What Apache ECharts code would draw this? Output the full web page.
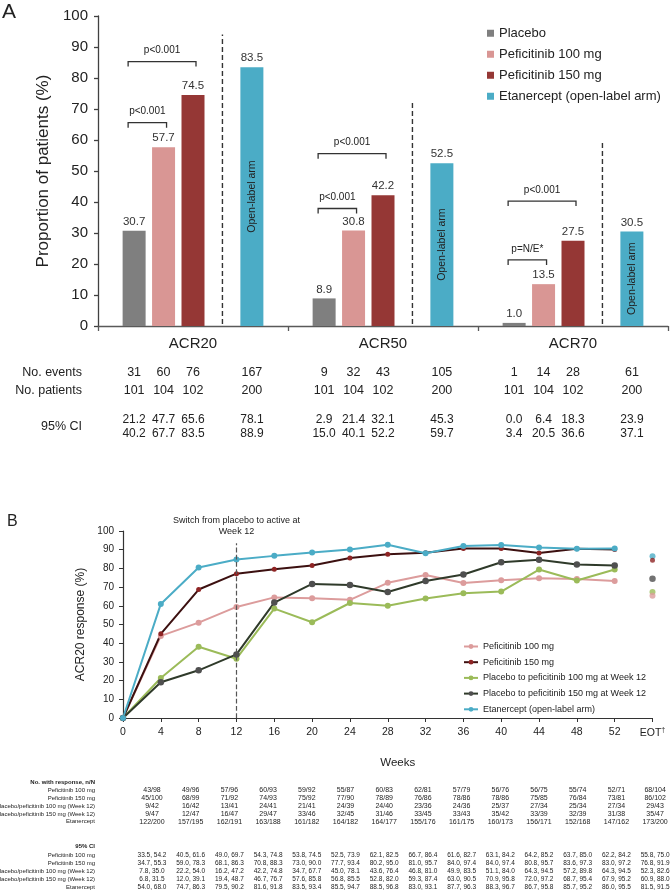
<!DOCTYPE html>
<html><head><meta charset="utf-8">
<script src="https://cdn.jsdelivr.net/npm/echarts@6/dist/echarts.min.js"></script>
<style>html,body{margin:0;padding:0;background:#fff}#c{width:670px;height:893px}</style>
</head><body><div id="c"></div>
<script>
// ---------------- Panel A data ----------------
const categoriesA = ['ACR20', 'ACR50', 'ACR70'];
const placeboA = [30.7, 8.9, 1.0];
const pef100A = [57.7, 30.8, 13.5];
const pef150A = [74.5, 42.2, 27.5];
const etanA = [83.5, 52.5, 30.5];
const dividerTopA = [94, 72, 60];
// [category, compared bar (1 = 100 mg, 2 = 150 mg), bracket level, label]
const bracketsA = [
  [0, 1, 65.6, 'p<0.001'], [0, 2, 85.3, 'p<0.001'],
  [1, 1, 37.9, 'p<0.001'], [1, 2, 55.6, 'p<0.001'],
  [2, 1, 21.3, 'p=N/E*'], [2, 2, 40.3, 'p<0.001']
];
const eventsA = [[31, 60, 76, 167], [9, 32, 43, 105], [1, 14, 28, 61]];
const patientsA = [[101, 104, 102, 200], [101, 104, 102, 200], [101, 104, 102, 200]];
const ciLowA = [[21.2, 47.7, 65.6, 78.1], [2.9, 21.4, 32.1, 45.3], [0.0, 6.4, 18.3, 23.9]];
const ciHighA = [[40.2, 67.7, 83.5, 88.9], [15.0, 40.1, 52.2, 59.7], [3.4, 20.5, 36.6, 37.1]];

// ---------------- Panel B data ----------------
const weeksB = ['0', '4', '8', '12', '16', '20', '24', '28', '32', '36', '40', '44', '48', '52', 'EOT'];
const pef100B = [0, 43.9, 51.0, 59.4, 64.5, 64.1, 63.2, 72.3, 76.5, 72.2, 73.7, 74.7, 74.3, 73.2];
const pef150B = [0, 45.0, 68.7, 77.2, 79.6, 81.5, 85.6, 87.6, 88.4, 90.7, 90.7, 88.2, 90.5, 90.1];
const pl100B = [0, 21.4, 38.1, 31.7, 58.5, 51.2, 61.5, 60.0, 63.9, 66.7, 67.6, 79.4, 73.5, 79.4];
const pl150B = [0, 19.1, 25.5, 34.0, 61.7, 71.7, 71.1, 67.4, 73.3, 76.7, 83.3, 84.6, 82.1, 81.6];
const etanB = [0, 61.0, 80.5, 84.8, 86.7, 88.5, 90.1, 92.7, 88.1, 92.0, 92.5, 91.2, 90.5, 90.7];
const eotB = { pef100: 65.4, pef150: 84.3, pl100: 67.4, pl150: 74.5, etan: 86.5 };
const switchWeek = '12';

// ---------------- Table B data ----------------
const rowLabelsB = ['Peficitinib 100 mg', 'Peficitinib 150 mg', 'Placebo/peficitinib 100 mg (Week 12)', 'Placebo/peficitinib 150 mg (Week 12)', 'Etanercept'];
const nPef100 = ['43/98', '49/96', '57/96', '60/93', '59/92', '55/87', '60/83', '62/81', '57/79', '56/76', '56/75', '55/74', '52/71', '68/104'];
const nPef150 = ['45/100', '68/99', '71/92', '74/93', '75/92', '77/90', '78/89', '76/86', '78/86', '78/86', '75/85', '76/84', '73/81', '86/102'];
const nPl100 = ['9/42', '16/42', '13/41', '24/41', '21/41', '24/39', '24/40', '23/36', '24/36', '25/37', '27/34', '25/34', '27/34', '29/43'];
const nPl150 = ['9/47', '12/47', '16/47', '29/47', '33/46', '32/45', '31/46', '33/45', '33/43', '35/42', '33/39', '32/39', '31/38', '35/47'];
const nEtan = ['122/200', '157/195', '162/191', '163/188', '161/182', '164/182', '164/177', '155/176', '161/175', '160/173', '156/171', '152/168', '147/162', '173/200'];
const ciPef100 = ['33.5, 54.2', '40.5, 61.6', '49.0, 69.7', '54.3, 74.8', '53.8, 74.5', '52.5, 73.9', '62.1, 82.5', '66.7, 86.4', '61.6, 82.7', '63.1, 84.2', '64.2, 85.2', '63.7, 85.0', '62.2, 84.2', '55.8, 75.0'];
const ciPef150 = ['34.7, 55.3', '59.0, 78.3', '68.1, 86.3', '70.8, 88.3', '73.0, 90.0', '77.7, 93.4', '80.2, 95.0', '81.0, 95.7', '84.0, 97.4', '84.0, 97.4', '80.8, 95.7', '83.6, 97.3', '83.0, 97.2', '76.8, 91.9'];
const ciPl100 = ['7.8, 35.0', '22.2, 54.0', '16.2, 47.2', '42.2, 74.8', '34.7, 67.7', '45.0, 78.1', '43.6, 76.4', '46.8, 81.0', '49.9, 83.5', '51.1, 84.0', '64.3, 94.5', '57.2, 89.8', '64.3, 94.5', '52.3, 82.6'];
const ciPl150 = ['6.8, 31.5', '12.0, 39.1', '19.4, 48.7', '46.7, 76.7', '57.6, 85.8', '56.8, 85.5', '52.8, 82.0', '59.3, 87.4', '63.0, 90.5', '70.9, 95.8', '72.0, 97.2', '68.7, 95.4', '67.9, 95.2', '60.9, 88.0'];
const ciEtan = ['54.0, 68.0', '74.7, 86.3', '79.5, 90.2', '81.6, 91.8', '83.5, 93.4', '85.5, 94.7', '88.5, 96.8', '83.0, 93.1', '87.7, 96.3', '88.3, 96.7', '86.7, 95.8', '85.7, 95.2', '86.0, 95.5', '81.5, 91.5'];

// ---------------- styles ----------------
const FONT = '"Liberation Sans", Arial, Helvetica, sans-serif';
const C = { placebo: '#7f7f7f', p100: '#d99694', p150: '#953735', etan: '#4bacc6' };
const BAR_W = 23, BAR_GAP = 0.28;
const SLOT = BAR_W * (1 + BAR_GAP);
const off = k => (k - 2) * SLOT;
const TXT = '#222';

function barSeries(name, data, color, extra) {
  return Object.assign({
    name, type: 'bar', xAxisIndex: 0, yAxisIndex: 0, data,
    barWidth: BAR_W, barGap: (BAR_GAP * 100) + '%',
    itemStyle: { color },
    label: { show: true, position: 'top', distance: 3, fontSize: 11.5, color: '#333', fontFamily: FONT,
      formatter: p => Number(p.value).toFixed(1) },
    silent: true
  }, extra || {});
}

function lineSeries(name, data, color, lineColor, size) {
  return {
    name: 'B|' + name, type: 'line', xAxisIndex: 1, yAxisIndex: 1, data,
    symbol: 'circle', symbolSize: size || 6, showSymbol: true,
    itemStyle: { color },
    lineStyle: { color: lineColor || color, width: 2 },
    silent: true
  };
}
function eotSeries(name, value, color, size) {
  return {
    name: 'EOT|' + name, type: 'scatter', xAxisIndex: 1, yAxisIndex: 1,
    data: [['EOT', value]], symbol: 'circle', symbolSize: size || 6,
    itemStyle: { color }, silent: true
  };
}

const option = {
  animation: false,
  textStyle: { fontFamily: FONT },
  grid: [
    { left: 98, right: 2, top: 16, height: 310 },
    { left: 123, right: 17.5, top: 531, height: 187 }
  ],
  legend: [
    {
      data: ['Placebo', 'Peficitinib 100 mg', 'Peficitinib 150 mg', 'Etanercept (open-label arm)'],
      orient: 'vertical', left: 482, top: 21, itemWidth: 7, itemHeight: 7, itemGap: 6.5,
      icon: 'rect', selectedMode: false,
      textStyle: { fontSize: 13, color: TXT, fontFamily: FONT, lineHeight: 14.5 }
    },
    {
      data: ['B|Peficitinib 100 mg', 'B|Peficitinib 150 mg', 'B|Placebo to peficitinib 100 mg at Week 12',
        'B|Placebo to peficitinib 150 mg at Week 12', 'B|Etanercept (open-label arm)'],
      formatter: n => n.replace(/^B\|/, ''),
      orient: 'vertical', left: 458, top: 636, itemWidth: 14, itemHeight: 6, itemGap: 4.7,
      selectedMode: false,
      textStyle: { fontSize: 9, color: TXT, fontFamily: FONT, lineHeight: 11 }
    }
  ],
  xAxis: [
    {
      gridIndex: 0, type: 'category', data: categoriesA,
      axisLine: { lineStyle: { color: '#595959', width: 1.3 } },
      axisTick: { show: true, length: 5, lineStyle: { color: '#595959', width: 1.3 } },
      axisLabel: { fontSize: 15, color: TXT, margin: 10 }
    },
    {
      gridIndex: 1, type: 'category', boundaryGap: false, data: weeksB,
      axisLine: { lineStyle: { color: '#333', width: 1.2 } },
      axisTick: { show: true, length: 4, interval: 0, lineStyle: { color: '#333' } },
      axisLabel: {
        fontSize: 10.5, color: TXT, margin: 9, interval: 0,
        formatter: v => v === 'EOT' ? '{a|EOT}{s|†}' : v,
        rich: { a: { fontSize: 10.5, color: TXT, lineHeight: 12 }, s: { fontSize: 7, color: TXT, lineHeight: 12, verticalAlign: 'top' } }
      },
      name: 'Weeks', nameLocation: 'middle', nameGap: 39,
      nameTextStyle: { fontSize: 11.5, color: TXT, padding: [0, 0, 0, 20] }
    }
  ],
  yAxis: [
    {
      gridIndex: 0, type: 'value', min: 0, max: 100, interval: 10,
      axisLine: { show: true, lineStyle: { color: '#404040', width: 1.3 } },
      axisTick: { show: true, length: 4, lineStyle: { color: '#404040', width: 1.3 } },
      splitLine: { show: false },
      axisLabel: { fontSize: 15, color: TXT, margin: 10 },
      name: 'Proportion of patients (%)', nameLocation: 'middle', nameGap: 38,
      nameTextStyle: { fontSize: 17, color: TXT }
    },
    {
      gridIndex: 1, type: 'value', min: 0, max: 100, interval: 10,
      axisLine: { show: true, lineStyle: { color: '#333', width: 1.2 } },
      axisTick: { show: true, length: 4, lineStyle: { color: '#333' } },
      splitLine: { show: false },
      axisLabel: { fontSize: 10, color: TXT, margin: 9 },
      name: 'ACR20 response (%)', nameLocation: 'middle', nameGap: 28,
      nameTextStyle: { fontSize: 12, color: TXT }
    }
  ],
  series: [
    barSeries('Placebo', placeboA, C.placebo),
    barSeries('Peficitinib 100 mg', pef100A, C.p100),
    barSeries('Peficitinib 150 mg', pef150A, C.p150),
    barSeries('spacer', [0, 0, 0], 'rgba(0,0,0,0)', { label: { show: false } }),
    barSeries('Etanercept (open-label arm)', etanA, C.etan),
    {
      type: 'custom', xAxisIndex: 0, yAxisIndex: 0, silent: true, z: 5,
      data: categoriesA.map((c, i) => [i, dividerTopA[i]]),
      renderItem(params, api) {
        const i = api.value(0);
        const base = api.coord([i, 0]);
        const cx = base[0], y0 = base[1];
        const children = [];
        const xd = cx + off(3);
        children.push({ type: 'line', shape: { x1: xd, y1: y0 - 2, x2: xd, y2: api.coord([i, api.value(1)])[1] },
          style: { stroke: '#333', lineWidth: 1.4, lineDash: [5, 3] } });
        const ye = api.coord([i, etanA[i]])[1];
        children.push({ type: 'text', x: cx + off(4), y: (ye + y0) / 2, rotation: Math.PI / 2,
          style: { text: 'Open-label arm', align: 'center', verticalAlign: 'middle', textAlign: 'center', textVerticalAlign: 'middle',
            fontSize: 10.5, fontFamily: FONT, fill: '#222' } });
        bracketsA.filter(b => b[0] === i).forEach(b => {
          const y = api.coord([i, b[2]])[1];
          const xl = cx + off(0) - 6, xr = cx + off(b[1]) + 3;
          children.push({ type: 'polyline', shape: { points: [[xl, y + 5], [xl, y], [xr, y], [xr, y + 5]] },
            style: { stroke: '#333', lineWidth: 1.3, fill: null } });
          children.push({ type: 'text', x: (xl + xr) / 2, y: y - 11,
            style: { text: b[3], align: 'center', verticalAlign: 'middle', textAlign: 'center', textVerticalAlign: 'middle',
              fontSize: 10, fontFamily: FONT, fill: '#222' } });
        });
        return { type: 'group', children };
      }
    },
    lineSeries('Peficitinib 100 mg', pef100B, '#dc9c9c'),
    lineSeries('Placebo to peficitinib 100 mg at Week 12', pl100B, '#9bbb59'),
    lineSeries('Placebo to peficitinib 150 mg at Week 12', pl150B, '#4f4f4f', '#2f3a2a', 6.5),
    lineSeries('Peficitinib 150 mg', pef150B, '#8e2424', '#3c1010', 5),
    Object.assign(lineSeries('Etanercept (open-label arm)', etanB, '#4bacc6'), {
      markLine: {
        silent: true, symbol: 'none',
        lineStyle: { type: 'dashed', color: '#555', width: 1.2 },
        label: { show: true, position: 'end', distance: 6, formatter: 'Switch from placebo to active at\nWeek 12',
          fontSize: 9, color: TXT, lineHeight: 11, fontFamily: FONT },
        data: [[{ coord: [switchWeek, 0] }, { coord: [switchWeek, 93.5] }]]
      }
    }),
    eotSeries('etan', eotB.etan, '#4bacc6'),
    eotSeries('pef150', eotB.pef150, '#8e2424', 5),
    eotSeries('pl150', eotB.pl150, '#4f4f4f', 6.5),
    eotSeries('pl100', eotB.pl100, '#9bbb59'),
    eotSeries('pef100', eotB.pef100, '#dc9c9c')
  ]
};

const chart = echarts.init(document.getElementById('c'), null, { renderer: 'canvas' });
chart.setOption(option);

// ---------------- text tables ----------------
function txt(text, x, y, size, align, bold) {
  return { type: 'text', x, y, silent: true,
    style: { text: String(text), align: align || 'center', textAlign: align || 'center', verticalAlign: 'middle', textVerticalAlign: 'middle',
      fontSize: size, fontFamily: FONT, fontWeight: bold ? 'bold' : 'normal', fill: TXT } };
}
const g = [];
g.push(txt('A', 2, 12, 21, 'left'));
g.push(txt('B', 7, 522, 16, 'left'));

// Table A
const TA_LABEL_X = 82;
g.push(txt('No. events', TA_LABEL_X, 373, 12.5, 'right'));
g.push(txt('No. patients', TA_LABEL_X, 391, 12.5, 'right'));
g.push(txt('95% CI', TA_LABEL_X, 427, 12.5, 'right'));
const colSlots = [0, 1, 2, 4];
categoriesA.forEach((c, i) => {
  const cx = chart.convertToPixel({ xAxisIndex: 0 }, i);
  colSlots.forEach((s, k) => {
    const x = cx + off(s);
    g.push(txt(eventsA[i][k], x, 373, 12.5));
    g.push(txt(patientsA[i][k], x, 391, 12.5));
    g.push(txt(ciLowA[i][k].toFixed(1), x, 419.5, 12));
    g.push(txt(ciHighA[i][k].toFixed(1), x, 434, 12));
  });
});

// Table B
const TB_LABEL_X = 95, TB_X0 = 152, TB_DX = 38.7;
const nRows = [nPef100, nPef150, nPl100, nPl150, nEtan];
const ciRows = [ciPef100, ciPef150, ciPl100, ciPl150, ciEtan];
g.push(txt('No. with response, n/N', TB_LABEL_X, 782, 6, 'right', true));
g.push(txt('95% CI', TB_LABEL_X, 846.5, 6, 'right', true));
rowLabelsB.forEach((lab, r) => {
  const y1 = 790 + r * 7.95, y2 = 855.7 + r * 7.85;
  g.push(txt(lab, TB_LABEL_X, y1, 6, 'right'));
  g.push(txt(lab, TB_LABEL_X, y2, 6, 'right'));
  nRows[r].forEach((v, j) => g.push(txt(v, TB_X0 + j * TB_DX, y1, 7)));
  ciRows[r].forEach((v, j) => g.push(txt(v, TB_X0 + j * TB_DX, y2, 6.5)));
});
chart.setOption({ graphic: g });
</script>
</body></html>
